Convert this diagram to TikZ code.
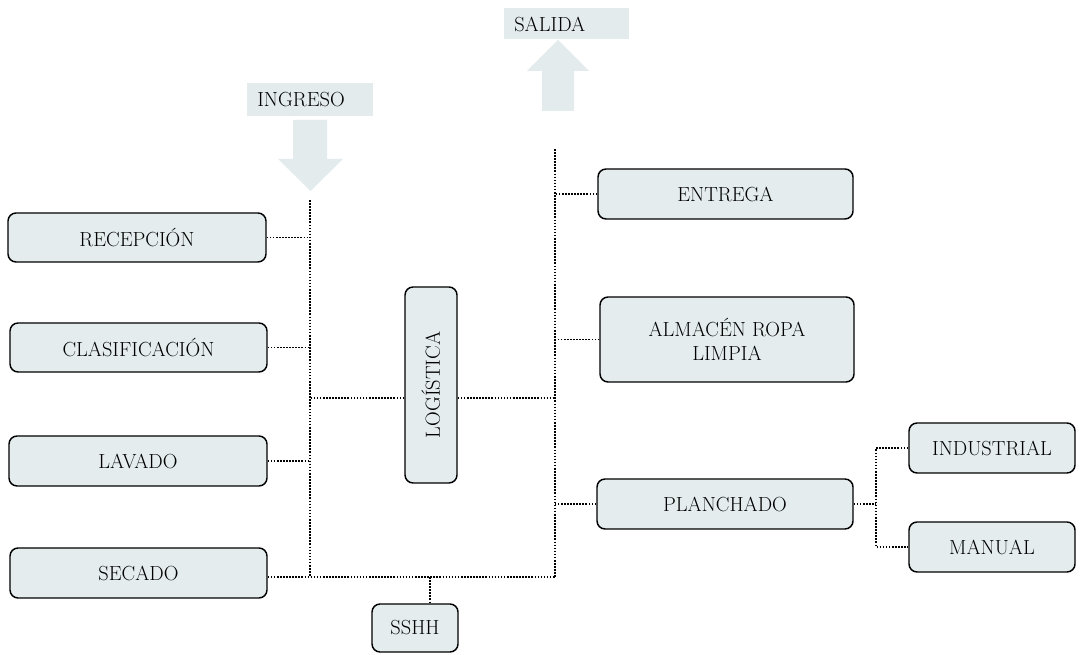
\documentclass[tikz,border=0pt]{standalone}
\usetikzlibrary{calc}
\definecolor{boxfill}{RGB}{228,236,238}
\definecolor{arrowfill}{RGB}{227,235,237}
\begin{document}
\begin{tikzpicture}[x=0.75pt,y=-0.75pt,
  box/.style={draw=black, line width=1.1pt, rounded corners=6pt, fill=boxfill,
    inner sep=0pt, font=\fontsize{15.3}{18}\selectfont, align=center},
  tag/.style={fill=arrowfill, inner sep=0pt, font=\fontsize{15.3}{18}\selectfont},
  link/.style={line width=1.3pt, dash pattern=on 1.2pt off 1.1pt}]
\useasboundingbox (0,0) rectangle (1082,655);

% labels and arrows
\node[tag, minimum width=94.5pt, minimum height=24.75pt, anchor=north west] (ingbox) at (247,83) {};
\node[tag, anchor=west, fill=none] (ing) at (257,100) {INGRESO};
\fill[arrowfill] (293,120) -- (327,120) -- (327,159) -- (343,159) -- (310.5,191) -- (278,159) -- (293,159) -- cycle;

\node[tag, minimum width=93.75pt, minimum height=23.25pt, anchor=north west] (salbox) at (504,8) {};
\node[tag, anchor=west, fill=none] (sal) at (514,24) {SALIDA};
\fill[arrowfill] (542,111) -- (574,111) -- (574,71) -- (589,71) -- (558,40) -- (527,71) -- (542,71) -- cycle;

% left boxes
\node[box, minimum width=193.5pt, minimum height=36.75pt] (rec) at (137,237.5) {RECEPCIÓN};
\node[box, minimum width=192.75pt, minimum height=36.75pt] (cla) at (138.5,347.5) {CLASIFICACIÓN};
\node[box, minimum width=193.5pt, minimum height=37.5pt] (lav) at (138,461) {LAVADO};
\node[box, minimum width=192.75pt, minimum height=37.5pt] (sec) at (138.5,573) {SECADO};

% center
\node[box, rotate=90, minimum width=147pt, minimum height=39pt] (log) at (431,385) {LOGÍSTICA};
\node[box, minimum width=64.5pt, minimum height=36pt] (ssh) at (415,628) {SSHH};

% right boxes
\node[box, minimum width=191.25pt, minimum height=37.5pt] (ent) at (725.5,194) {ENTREGA};
\node[box, minimum width=190.5pt, minimum height=63.75pt] (alm) at (727,339.5) {ALMACÉN ROPA\\LIMPIA};
\node[box, minimum width=192pt, minimum height=37.5pt] (pla) at (725,504) {PLANCHADO};
\node[box, minimum width=124.5pt, minimum height=37.5pt] (ind) at (992,448) {INDUSTRIAL};
\node[box, minimum width=124.5pt, minimum height=37.5pt] (man) at (992,547) {MANUAL};

% bus coordinates
\coordinate (ltop) at (310,200);
\coordinate (lbot) at (310,577);
\coordinate (rtop) at (555,149);
\coordinate (rbot) at (555,577);
\coordinate (sbot) at (430,577);
\coordinate (pj) at (876,504);

% left bus
\draw[link] (ltop) -- (lbot);
\draw[link] (rec.east) -- (rec.east -| ltop);
\draw[link] (cla.east) -- (cla.east -| ltop);
\draw[link] (lav.east) -- (lav.east -| ltop);
\draw[link] (sec.east |- lbot) -- (rbot);
\draw[link] (log.north |- 0,398) -- (310,398);
\draw[link] (log.south |- 0,398) -- (555,398);

% right bus
\draw[link] (rtop) -- (rbot);
\draw[link] (ent.west) -- (ent.west -| rtop);
\draw[link] (alm.west) -- (alm.west -| rtop);
\draw[link] (pla.west) -- (pla.west -| rtop);

% sshh
\draw[link] (sbot) -- (ssh.north -| sbot);

% planchado split
\draw[link] (pla.east) -- (pj);
\draw[link] (ind.west) -- (ind.west -| pj) -- (man.west -| pj) -- (man.west);
\end{tikzpicture}
\end{document}
